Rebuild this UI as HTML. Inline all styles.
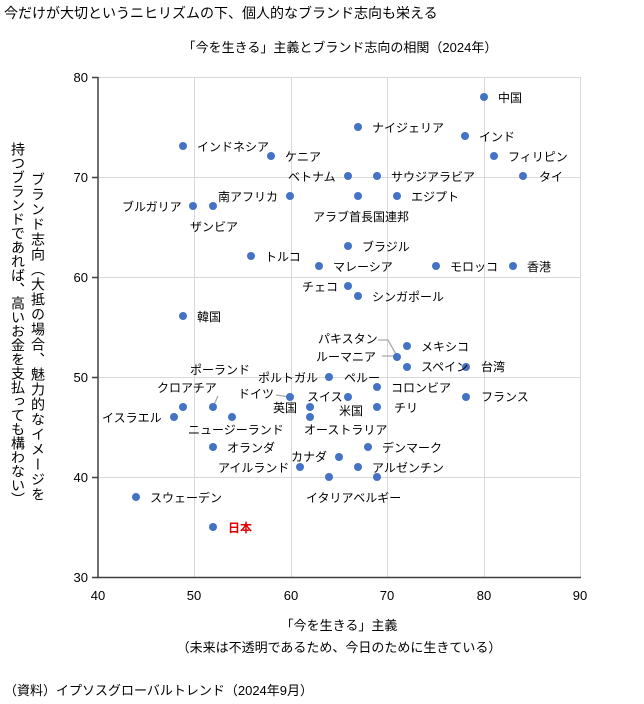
<!DOCTYPE html>
<html><head><meta charset="utf-8"><style>
body{margin:0;background:#fff;width:644px;height:704px;overflow:hidden;position:relative;font-family:"Liberation Sans","Noto Sans CJK JP",sans-serif;}
.v{position:absolute;writing-mode:vertical-rl;font-size:14px;color:#000;line-height:16px;}
svg text{font-family:"Liberation Sans","Noto Sans CJK JP",sans-serif;}
</style></head><body>
<div style="position:absolute;left:4px;top:3px;font-size:14px;">今だけが大切というニヒリズムの下、個人的なブランド志向も栄える</div>
<div style="position:absolute;left:0;width:680px;text-align:center;top:37px;font-size:13px;">「今を生きる」主義とブランド志向の相関（2024年）</div>
<div class="v" style="left:30px;top:172px;letter-spacing:1px;">ブランド志向（大抵の場合、魅力的なイメージを</div>
<div class="v" style="left:10px;top:142px;">持つブランドであれば、高いお金を支払っても構わない）</div>
<svg width="644" height="704" style="position:absolute;left:0;top:0">
<g stroke="#d9d9d9" stroke-width="1">
<line x1="98" y1="77.5" x2="580" y2="77.5"/><line x1="98" y1="177.5" x2="580" y2="177.5"/><line x1="98" y1="277.5" x2="580" y2="277.5"/><line x1="98" y1="377.5" x2="580" y2="377.5"/><line x1="98" y1="477.5" x2="580" y2="477.5"/>
<line x1="194.5" y1="77" x2="194.5" y2="577"/><line x1="291.5" y1="77" x2="291.5" y2="577"/><line x1="387.5" y1="77" x2="387.5" y2="577"/><line x1="484.5" y1="77" x2="484.5" y2="577"/><line x1="580.5" y1="77" x2="580.5" y2="577"/>
</g>
<g stroke="#404040" stroke-width="1.5">
<line x1="98" y1="77" x2="98" y2="578"/><line x1="97" y1="577.5" x2="581" y2="577.5"/>
<line x1="92" y1="77.5" x2="98" y2="77.5"/><line x1="92" y1="177.5" x2="98" y2="177.5"/><line x1="92" y1="277.5" x2="98" y2="277.5"/><line x1="92" y1="377.5" x2="98" y2="377.5"/><line x1="92" y1="477.5" x2="98" y2="477.5"/><line x1="92" y1="577.5" x2="98" y2="577.5"/>
</g>
<g font-size="13" text-anchor="end"><text x="88" y="82">80</text><text x="88" y="182">70</text><text x="88" y="282">60</text><text x="88" y="382">50</text><text x="88" y="482">40</text><text x="88" y="582">30</text></g>
<g font-size="13" text-anchor="middle"><text x="98" y="600">40</text><text x="194" y="600">50</text><text x="291" y="600">60</text><text x="387" y="600">70</text><text x="484" y="600">80</text><text x="580" y="600">90</text>
<text x="339" y="630">「今を生きる」主義</text><text x="339" y="652">（未来は不透明であるため、今日のために生きている）</text></g>
<text x="4" y="695" font-size="13">（資料）イプソスグローバルトレンド（2024年9月）</text>
<g stroke="#aaa" fill="none" stroke-width="1.3">
<polyline points="378,340 388,340 397,356"/><polyline points="382,356 397,356"/><polyline points="218,396 213,407"/><polyline points="276,395 290,397"/>
</g>
<g fill="#4472c4">
<circle cx="484" cy="97" r="4"/><circle cx="358" cy="127" r="4"/><circle cx="465" cy="136" r="4"/><circle cx="183" cy="146" r="4"/><circle cx="271" cy="156" r="4"/><circle cx="494" cy="156" r="4"/><circle cx="348" cy="176" r="4"/><circle cx="377" cy="176" r="4"/><circle cx="523" cy="176" r="4"/><circle cx="290" cy="196" r="4"/><circle cx="358" cy="196" r="4"/><circle cx="397" cy="196" r="4"/><circle cx="193" cy="206" r="4"/><circle cx="213" cy="206" r="4"/><circle cx="348" cy="246" r="4"/><circle cx="251" cy="256" r="4"/><circle cx="319" cy="266" r="4"/><circle cx="436" cy="266" r="4"/><circle cx="513" cy="266" r="4"/><circle cx="348" cy="286" r="4"/><circle cx="358" cy="296" r="4"/><circle cx="183" cy="316" r="4"/>
<circle cx="407" cy="346" r="4"/><circle cx="397" cy="357" r="4"/><circle cx="407" cy="367" r="4"/><circle cx="466" cy="367" r="4"/><circle cx="466" cy="397" r="4"/>
<circle cx="183" cy="407" r="4"/><circle cx="174" cy="417" r="4"/><circle cx="213" cy="407" r="4"/><circle cx="232" cy="417" r="4"/><circle cx="290" cy="397" r="4"/><circle cx="329" cy="377" r="4"/><circle cx="310" cy="407" r="4"/><circle cx="310" cy="417" r="4"/><circle cx="348" cy="397" r="4"/><circle cx="377" cy="387" r="4"/><circle cx="377" cy="407" r="4"/>
<circle cx="213" cy="447" r="4"/><circle cx="368" cy="447" r="4"/><circle cx="339" cy="457" r="4"/><circle cx="300" cy="467" r="4"/><circle cx="358" cy="467" r="4"/><circle cx="329" cy="477" r="4"/><circle cx="377" cy="477" r="4"/><circle cx="136" cy="497" r="4"/><circle cx="213" cy="527" r="4"/>
</g>
<g font-size="12">
<text x="498" y="102">中国</text><text x="372" y="132">ナイジェリア</text><text x="479" y="141">インド</text><text x="197" y="151">インドネシア</text><text x="285" y="161">ケニア</text><text x="508" y="161">フィリピン</text><text x="288" y="181">ベトナム</text><text x="391" y="181">サウジアラビア</text><text x="539" y="181">タイ</text><text x="218" y="201">南アフリカ</text><text x="313" y="221">アラブ首長国連邦</text><text x="411" y="201">エジプト</text><text x="122" y="211">ブルガリア</text><text x="190" y="231">ザンビア</text><text x="362" y="251">ブラジル</text><text x="265" y="261">トルコ</text><text x="333" y="271">マレーシア</text><text x="450" y="271">モロッコ</text><text x="527" y="271">香港</text><text x="302" y="291">チェコ</text><text x="372" y="301">シンガポール</text><text x="197" y="321">韓国</text>
<text x="421" y="351">メキシコ</text><text x="318" y="343">パキスタン</text><text x="316" y="361">ルーマニア</text><text x="421" y="371">スペイン</text><text x="481" y="371">台湾</text><text x="481" y="401">フランス</text>
<text x="190" y="374">ポーランド</text><text x="157" y="392">クロアチア</text><text x="102" y="422">イスラエル</text><text x="188" y="434">ニュージーランド</text><text x="238" y="398">ドイツ</text><text x="258" y="382">ポルトガル</text><text x="344" y="382">ペルー</text><text x="273" y="412">英国</text><text x="307" y="401">スイス</text><text x="339" y="415">米国</text><text x="391" y="392">コロンビア</text><text x="394" y="412">チリ</text><text x="304" y="434">オーストラリア</text>
<text x="227" y="452">オランダ</text><text x="382" y="452">デンマーク</text><text x="291" y="461">カナダ</text><text x="218" y="472">アイルランド</text><text x="372" y="472">アルゼンチン</text><text x="306" y="502">イタリアベルギー</text><text x="150" y="502">スウェーデン</text>
<text x="228" y="532" fill="#e00000" font-weight="bold">日本</text>
</g>
</svg>
</body></html>
